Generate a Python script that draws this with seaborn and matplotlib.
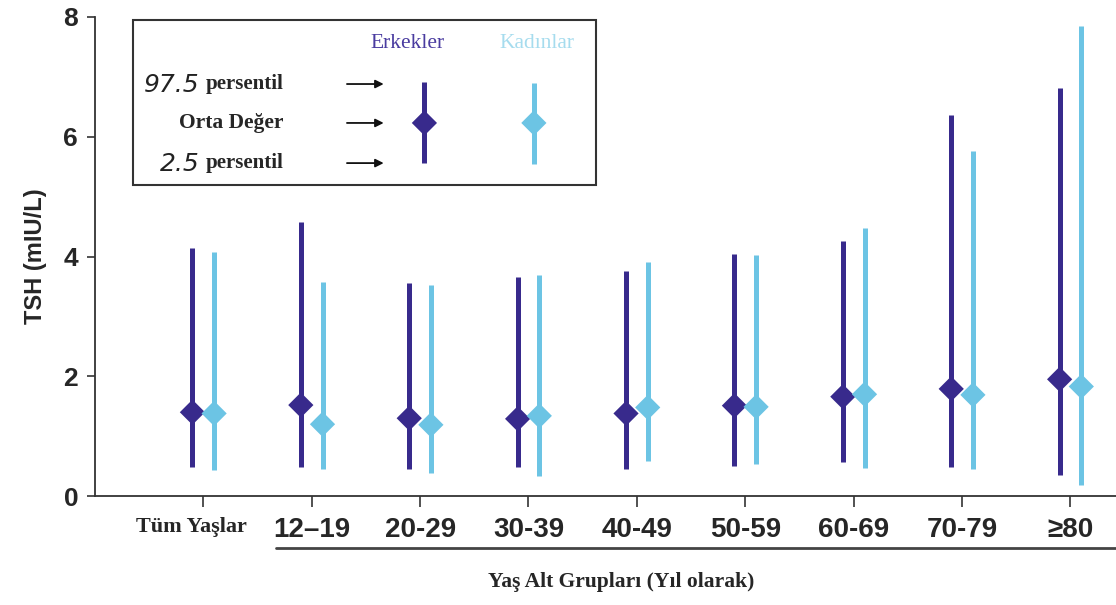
import numpy as np
import pandas as pd
import matplotlib
matplotlib.use("Agg")
import matplotlib.pyplot as plt
import seaborn as sns
from matplotlib.patches import Rectangle

# age groups
groups = ["Tüm Yaşlar", "12–19", "20-29", "30-39", "40-49", "50-59", "60-69", "70-79", "≥80"]

# TSH values (mIU/L)
male_median = [1.40, 1.52, 1.30, 1.29, 1.38, 1.51, 1.66, 1.79, 1.95]
male_low = [0.49, 0.49, 0.46, 0.49, 0.45, 0.50, 0.57, 0.49, 0.35]
male_high = [4.15, 4.58, 3.56, 3.66, 3.76, 4.04, 4.26, 6.36, 6.81]

female_median = [1.38, 1.20, 1.19, 1.34, 1.48, 1.49, 1.70, 1.69, 1.83]
female_low = [0.43, 0.45, 0.38, 0.33, 0.59, 0.53, 0.47, 0.46, 0.18]
female_high = [4.08, 3.58, 3.52, 3.69, 3.91, 4.02, 4.47, 5.76, 7.85]

sexes = ["Erkekler", "Kadınlar"]
colors = {"Erkekler": "#382a8c", "Kadınlar": "#6cc4e4"}
offsets = {"Erkekler": -0.1, "Kadınlar": 0.1}

rows = []
for i, g in enumerate(groups):
    rows.append(dict(grup=g, pos=i + offsets["Erkekler"], cins="Erkekler",
                     median=male_median[i], low=male_low[i], high=male_high[i]))
    rows.append(dict(grup=g, pos=i + offsets["Kadınlar"], cins="Kadınlar",
                     median=female_median[i], low=female_low[i], high=female_high[i]))
df = pd.DataFrame(rows)

sns.set_style("ticks")
plt.rcParams["font.family"] = ["Liberation Sans", "DejaVu Sans"]
serif = ["Liberation Serif", "DejaVu Serif"]

fig = plt.figure(figsize=(11.16, 6.05), dpi=100)
ax = fig.add_axes([0.085, 0.18, 0.915, 0.792])

# percentile lines
for s in sexes:
    d = df[df.cins == s]
    ax.vlines(d["pos"], d["low"], d["high"], color=colors[s], lw=3.6, zorder=2)

# medians
sns.scatterplot(data=df, x="pos", y="median", hue="cins", palette=colors,
                marker="D", s=165, edgecolor="none", legend=False, ax=ax, zorder=3)

ax.set_xlim(-1, 8.42)
ax.set_ylim(0, 8)
ax.set_yticks([0, 2, 4, 6, 8])
ax.set_yticklabels(["0", "2", "4", "6", "8"], fontsize=19, fontweight="bold")
ax.set_xticks(range(len(groups)))
# first label ("Tüm Yaşlar") is drawn separately, slightly left of its tick
ax.set_xticklabels([""] + groups[1:], fontsize=20, fontweight="bold")
ax.text(-0.11, -0.065, groups[0], transform=ax.get_xaxis_transform(),
        ha="center", va="center", fontsize=16, fontweight="bold", fontfamily=serif)
ax.tick_params(axis="x", length=8, width=1.2, pad=7, color="#333333")
ax.tick_params(axis="y", length=6, width=1.2, pad=6, color="#333333")
ax.set_xlabel("")
ax.set_ylabel("TSH (mIU/L)", fontsize=17, fontweight="bold", labelpad=12)
sns.despine(ax=ax, top=True, right=True)
for sp in ["left", "bottom"]:
    ax.spines[sp].set_linewidth(1.3)
    ax.spines[sp].set_color("#333333")

# underline below the age subgroups
trans = ax.get_xaxis_transform()
ax.plot([0.67, 8.42], [-0.109, -0.109], transform=trans, color="#444444",
        lw=2, clip_on=False)
ax.text(0.515, -0.18, "Yaş Alt Grupları (Yıl olarak)", transform=ax.transAxes,
        ha="center", va="center", fontsize=15.5, fontweight="bold", fontfamily=serif)

# explanation box
ax.add_patch(Rectangle((-0.65, 5.19), 4.27, 2.76, fill=False, lw=1.5,
                       edgecolor="#333333", zorder=4))
ax.text(1.88, 7.56, "Erkekler", color="#4a3ca0", fontsize=15.5, ha="center", va="center",
        fontfamily=serif)
ax.text(3.08, 7.56, "Kadınlar", color="#a6dcee", fontsize=15.5, ha="center", va="center",
        fontfamily=serif)

legend_y = [6.88, 6.23, 5.56]
left_nums = ["97.5", "", "2.5"]
for y, num in zip(legend_y, left_nums):
    if num:
        ax.text(0.74, y, "persentil", fontsize=15, fontweight="bold", ha="right", va="center",
                fontfamily=serif)
        ax.text(-0.03, y - 0.02, num, fontsize=18, fontstyle="italic", ha="right", va="center",
                color="#222222", fontfamily=["DejaVu Sans"])
    else:
        ax.text(0.74, y, "Orta Değer", fontsize=15.5, fontweight="bold", ha="right", va="center",
                fontfamily=serif)
    ax.annotate("", xy=(1.69, y), xytext=(1.30, y),
                arrowprops=dict(arrowstyle="-|>", color="#111111", lw=1.3,
                                mutation_scale=12))

ax.vlines([2.04], 5.56, 6.91, color=colors["Erkekler"], lw=3.6, zorder=5)
ax.vlines([3.05], 5.55, 6.90, color=colors["Kadınlar"], lw=3.6, zorder=5)
ax.scatter([2.04], [6.23], marker="D", s=165, color=colors["Erkekler"], zorder=6, edgecolor="none")
ax.scatter([3.05], [6.23], marker="D", s=165, color=colors["Kadınlar"], zorder=6, edgecolor="none")

fig.savefig("out.png", dpi=100)
